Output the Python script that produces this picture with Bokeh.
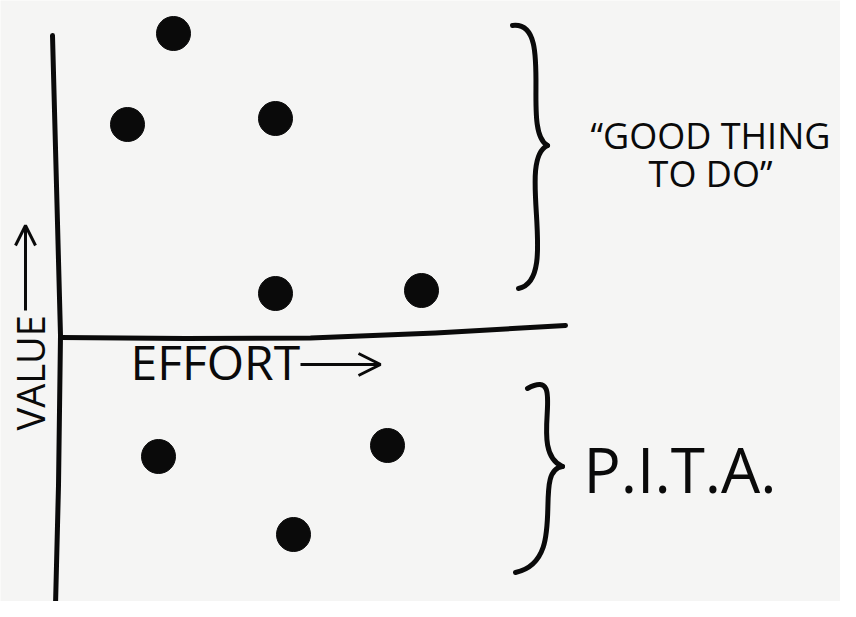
from bokeh.plotting import figure
from bokeh.models import Range1d, Arrow, OpenHead
from bokeh.core.properties import value
from bokeh.embed import file_html
from bokeh.resources import INLINE
import math

# items on the effort / value sketch (origin at the axis cross)
effort = [2.26, 1.34, 4.30, 4.30, 7.22, 1.96, 6.54, 4.66]
worth = [6.04, 4.22, 4.34, 0.84, 0.90, -2.42, -2.20, -3.98]

# axis strokes, drawn freehand
v_axis_x = [-0.16, -0.08, 0.0, -0.04, -0.10]
v_axis_y = [6.00, 3.00, 0.0, -3.00, -5.40]
h_axis_x = [0.0, 2.5, 5.0, 7.5, 10.1]
h_axis_y = [-0.04, -0.06, -0.05, 0.05, 0.20]

# curly braces (two cubic curves each)
brace_x0 = [9.04, 9.74, 9.34, 10.04]
brace_y0 = [6.20, 3.80, -1.06, -2.62]
brace_cx0 = [9.90, 9.10, 10.20, 9.40]
brace_cy0 = [6.30, 3.50, -0.60, -2.70]
brace_cx1 = [9.20, 10.00, 9.30, 10.20]
brace_cy1 = [4.10, 1.10, -2.30, -4.50]
brace_x1 = [9.74, 9.16, 10.04, 9.10]
brace_y1 = [3.80, 0.94, -2.62, -4.74]

INK = "#0a0a0a"
PAPER = "#f5f5f4"
FONT = "Open Sans"

p = figure(width=840, height=601, output_backend="svg", toolbar_location=None,
           x_range=Range1d(-1.2, 15.6), y_range=Range1d(-5.32, 6.7),
           min_border=0, background_fill_color=PAPER, border_fill_color=PAPER)
p.axis.visible = False
p.grid.visible = False
p.outline_line_color = None

p.line(v_axis_x, v_axis_y, line_width=5, color=INK, line_cap="round", line_join="round")
p.line(h_axis_x, h_axis_y, line_width=5, color=INK, line_cap="round", line_join="round")

p.bezier(x0=brace_x0, y0=brace_y0, x1=brace_x1, y1=brace_y1,
         cx0=brace_cx0, cy0=brace_cy0, cx1=brace_cx1, cy1=brace_cy1,
         line_width=5, line_color=INK, line_cap="round")

p.scatter(effort, worth, size=34, color=INK)

p.text(x=[1.4], y=[-0.52], text=["EFFORT"], text_font=value(FONT),
       text_font_size="48px", text_color=INK, text_baseline="alphabetic")
p.add_layout(Arrow(x_start=4.8, y_start=-0.58, x_end=6.4, y_end=-0.58,
                   line_width=3, line_color=INK,
                   end=OpenHead(size=22, line_width=3, line_color=INK)))

p.text(x=[-0.62], y=[-1.9], text=["VALUE"], angle=math.pi / 2,
       text_font=value(FONT), text_font_size="38px", text_color=INK,
       text_baseline="alphabetic")
p.add_layout(Arrow(x_start=-0.7, y_start=0.5, x_end=-0.7, y_end=2.2,
                   line_width=3, line_color=INK,
                   end=OpenHead(size=20, line_width=3, line_color=INK)))

p.text(x=[13.0, 13.0], y=[4.0, 3.24], text=["\u201cGOOD THING", "TO DO\u201d"],
       text_font=value(FONT), text_font_size="36px", text_color=INK,
       text_align="center", text_baseline="alphabetic")
p.text(x=[10.46], y=[-2.66], text=["P.I.T.A."], text_font=value(FONT),
       text_font_size="62px", text_color=INK, text_baseline="alphabetic")

open("out.html", "w").write(file_html(p, INLINE))
